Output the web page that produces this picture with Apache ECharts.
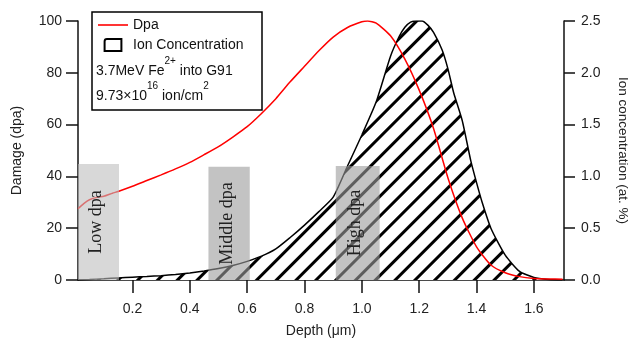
<!DOCTYPE html>
<html>
<head>
<meta charset="utf-8">
<script src="https://cdn.jsdelivr.net/npm/echarts@6/dist/echarts.min.js"></script>
<style>
  html, body { margin: 0; padding: 0; background: #fff; }
  #chart { width: 633px; height: 341px; }
</style>
</head>
<body>
<div id="chart"></div>
<script>
// damage profile (left axis)
const depthDpa = [0.01, 0.03, 0.05, 0.08, 0.1, 0.13, 0.15, 0.2, 0.25, 0.3, 0.35, 0.4, 0.45, 0.5, 0.55, 0.6, 0.65, 0.7, 0.75, 0.8, 0.85, 0.9, 0.95, 1.0, 1.02, 1.05, 1.1, 1.15, 1.2, 1.25, 1.3, 1.35, 1.4, 1.45, 1.5, 1.55, 1.6, 1.65, 1.7]
const dpaValues = [27.5, 29.5, 31, 32, 32.3, 33.5, 34.2, 36.2, 38.4, 40.6, 42.9, 45.4, 48.4, 51.5, 55.2, 59.2, 64.3, 70, 76.5, 82.5, 88.5, 93.8, 97.5, 99.7, 100, 99.2, 94.3, 85.3, 73.3, 58.5, 39.5, 24, 12.8, 5.8, 2.8, 1.3, 0.6, 0.4, 0.3]

// ion concentration (right axis)
const depthIon = [0.01, 0.05, 0.1, 0.15, 0.2, 0.25, 0.3, 0.35, 0.4, 0.45, 0.5, 0.55, 0.6, 0.65, 0.7, 0.75, 0.8, 0.85, 0.9, 0.95, 1.0, 1.05, 1.1, 1.13, 1.15, 1.17, 1.19, 1.21, 1.23, 1.25, 1.28, 1.3, 1.32, 1.35, 1.38, 1.4, 1.42, 1.45, 1.5, 1.55, 1.6, 1.65, 1.7]
const ionValues = [0, 0.005, 0.012, 0.02, 0.027, 0.034, 0.042, 0.053, 0.068, 0.087, 0.11, 0.14, 0.18, 0.23, 0.3, 0.41, 0.53, 0.66, 0.8, 1.1, 1.4, 1.72, 2.16, 2.35, 2.44, 2.49, 2.5, 2.5, 2.46, 2.39, 2.22, 2.04, 1.81, 1.54, 1.15, 0.94, 0.745, 0.5, 0.24, 0.083, 0.025, 0.006, 0]

const xTicks = [0.2, 0.4, 0.6, 0.8, 1.0, 1.2, 1.4, 1.6]

// shaded sampling regions
const regionNames = ['Low dpa', 'Middle dpa', 'High dpa']
const regionFrom = [0.01, 0.465, 0.909]
const regionTo = [0.153, 0.609, 1.062]
const regionTop = [44.8, 43.7, 44]

const boxColors = ['rgba(190,190,190,0.6)', 'rgba(155,155,155,0.6)', 'rgba(155,155,155,0.6)']
const axisFont = { fontFamily: 'Liberation Sans', fontSize: 14, color: '#222' }
const supRich = {
  b: { fontFamily: 'Liberation Sans', fontSize: 14, lineHeight: 22, verticalAlign: 'bottom', fill: '#111' },
  s: { fontFamily: 'Liberation Sans', fontSize: 10, lineHeight: 10, verticalAlign: 'top', fill: '#111' }
}

const chart = echarts.init(document.getElementById('chart'))

const option = {
  animation: false,
  backgroundColor: '#fff',
  grid: { left: 78, right: 69, top: 21, bottom: 61, outerBoundsMode: 'none', containLabel: false },
  legend: {
    orient: 'vertical',
    left: 98,
    top: 18,
    padding: 0,
    itemWidth: 30,
    itemHeight: 12,
    itemGap: 6,
    textStyle: { fontFamily: 'Liberation Sans', fontSize: 14, color: '#111', lineHeight: 14 },
    data: [
      {
        name: 'Dpa',
        icon: 'path://M0,0H30V1.6H0Z',
        itemStyle: { color: '#ff0000', borderWidth: 0 }
      },
      {
        name: 'Ion Concentration',
        icon: 'path://M2,0H14V10H0V2Q0,0 2,0Z',
        itemStyle: { color: '#fff', borderColor: '#000', borderWidth: 2, decal: 'none' }
      }
    ]
  },
  graphic: [
    {
      type: 'rect',
      shape: { x: 92, y: 12, width: 170, height: 98 },
      style: { fill: '#fff', stroke: '#000', lineWidth: 1.5 },
      z: 0
    },
    {
      type: 'text',
      left: 96,
      top: 56,
      z: 5,
      style: { text: '{b|3.7MeV Fe}{s|2+}{b| into G91}', rich: supRich }
    },
    {
      type: 'text',
      left: 96,
      top: 81,
      z: 5,
      style: { text: '{b|9.73×10}{s|16}{b| ion/cm}{s|2}', rich: supRich }
    }
  ],
  xAxis: {
    type: 'value',
    min: 0.01,
    max: 1.705,
    name: 'Depth (μm)',
    nameLocation: 'middle',
    nameGap: 44,
    nameTextStyle: { fontFamily: 'Liberation Sans', fontSize: 14, color: '#222' },
    axisLine: { lineStyle: { color: '#111', width: 1.5 } },
    axisTick: { length: 13, lineStyle: { color: '#111', width: 1.5 }, customValues: xTicks },
    axisLabel: Object.assign({ margin: 22, customValues: xTicks, formatter: v => v.toFixed(1) }, axisFont),
    splitLine: { show: false }
  },
  yAxis: [
    {
      type: 'value',
      min: 0,
      max: 100,
      interval: 20,
      name: 'Damage (dpa)',
      nameLocation: 'middle',
      nameGap: 54,
      nameTextStyle: { fontFamily: 'Liberation Sans', fontSize: 14, color: '#222' },
      axisLine: { show: true, lineStyle: { color: '#111', width: 1.5 } },
      axisTick: { show: true, length: 12, lineStyle: { color: '#111', width: 1.5 } },
      axisLabel: Object.assign({ margin: 16 }, axisFont),
      splitLine: { show: false }
    },
    {
      type: 'value',
      min: 0,
      max: 2.5,
      interval: 0.5,
      position: 'right',
      name: 'Ion concentration (at. %)',
      nameLocation: 'middle',
      nameRotate: -90,
      nameGap: 52,
      nameTextStyle: { fontFamily: 'Liberation Sans', fontSize: 13.5, color: '#222', padding: [0, 0, 0, 0] },
      axisLine: { show: true, lineStyle: { color: '#111', width: 1.5 } },
      axisTick: { show: true, length: 11, lineStyle: { color: '#111', width: 1.5 } },
      axisLabel: Object.assign({ margin: 17, formatter: v => v.toFixed(1) }, axisFont),
      splitLine: { show: false }
    }
  ],
  series: [
    {
      name: 'Ion Concentration',
      type: 'line',
      yAxisIndex: 1,
      symbol: 'none',
      smooth: 0.2,
      z: 2,
      data: depthIon.map((d, i) => [d, ionValues[i]]),
      lineStyle: { color: '#000', width: 1.5 },
      itemStyle: {
        color: '#000',
        decal: {
          symbol: 'rect',
          symbolSize: 1,
          color: '#000',
          dashArrayX: [1, 0],
          dashArrayY: [2.8, 10.6],
          rotation: -Math.PI / 4
        }
      },
      areaStyle: { color: '#fff', opacity: 1 }
    },
    {
      name: 'Dpa',
      type: 'line',
      yAxisIndex: 0,
      symbol: 'none',
      smooth: 0.2,
      z: 3,
      data: depthDpa.map((d, i) => [d, dpaValues[i]]),
      lineStyle: { color: '#ff0000', width: 1.5 },
      itemStyle: { color: '#ff0000' }
    },
    {
      type: 'custom',
      yAxisIndex: 0,
      z: 6,
      silent: true,
      data: regionNames.map((n, i) => [regionFrom[i], regionTo[i], regionTop[i], n]),
      renderItem: (params, api) => {
        const p0 = api.coord([api.value(0), api.value(2)])
        const p1 = api.coord([api.value(1), 0])
        const w = p1[0] - p0[0]
        const h = p1[1] - p0[1]
        return {
          type: 'group',
          children: [
            {
              type: 'rect',
              shape: { x: p0[0], y: p0[1], width: w, height: h },
              style: { fill: boxColors[params.dataIndex] }
            },
            {
              type: 'text',
              x: p0[0] + w / 2 - 2,
              y: p0[1] + h / 2,
              rotation: Math.PI / 2,
              style: {
                text: regionNames[params.dataIndex],
                fontFamily: 'Liberation Serif',
                fontSize: 18,
                fill: '#222',
                align: 'center',
                verticalAlign: 'middle'
              }
            }
          ]
        }
      }
    }
  ]
}

chart.setOption(option)
</script>
</body>
</html>
